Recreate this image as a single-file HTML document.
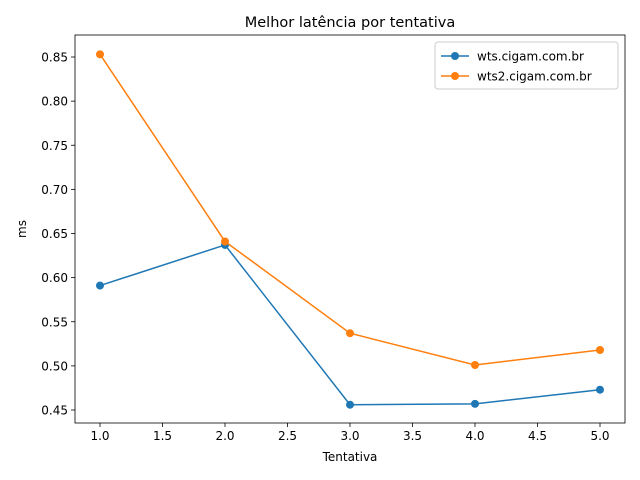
<!DOCTYPE html>
<html><head><meta charset="utf-8"><style>
html,body{margin:0;padding:0;background:#fff;}
svg{display:block;font-family:"DejaVu Sans","Liberation Sans",sans-serif;}
</style></head><body>
<svg id="chart" width="640" height="480"></svg>
<script>
const categories=[1,2,3,4,5];
const seriesWts=[0.591,0.637,0.456,0.457,0.473];
const seriesWts2=[0.853,0.641,0.537,0.501,0.518];
const xTicks=[1.0,1.5,2.0,2.5,3.0,3.5,4.0,4.5,5.0];
const yTicks=[0.45,0.50,0.55,0.60,0.65,0.70,0.75,0.80,0.85];
const seriesNames=["wts.cigam.com.br","wts2.cigam.com.br"];

const NS="http://www.w3.org/2000/svg";
const svg=document.getElementById('chart');
const L=75,R=625,T=35,B=423;
const x=v=>100+(v-1)*125;
const y=v=>57+(0.85-v)*882.5;
function mk(tag,attrs,parent){const e=document.createElementNS(NS,tag);for(const k in attrs)e.setAttribute(k,attrs[k]);(parent||svg).appendChild(e);return e;}

const title=mk('text',{x:350,y:27,'text-anchor':'middle','font-size':14.5,fill:'#000'});


title.textContent='Melhor latência por tentativa';

xTicks.forEach(t=>{
  const g=mk('g',{});
  
  
  mk('line',{x1:x(t),x2:x(t),y1:B,y2:B+4,stroke:'#000','stroke-width':0.8},g);
  const tx=mk('text',{x:x(t),y:B+17,'text-anchor':'middle','font-size':12},g);
  tx.textContent=t.toFixed(1);
});
yTicks.forEach(t=>{
  const g=mk('g',{});
  
  
  mk('line',{x1:L-4,x2:L,y1:y(t),y2:y(t),stroke:'#000','stroke-width':0.8},g);
  const tx=mk('text',{x:L-7,y:y(t)+4.5,'text-anchor':'end','font-size':12},g);
  tx.textContent=t.toFixed(2);
});
const xl=mk('text',{x:350,y:461,'text-anchor':'middle','font-size':12});


xl.textContent='Tentativa';
const yl=mk('text',{x:26,y:229,'text-anchor':'middle','font-size':12,transform:'rotate(-90 26 229)'});


yl.textContent='ms';

function drawSeries(vals,color,name){
  const g=mk('g',{});
  
  
  mk('polyline',{points:vals.map((v,i)=>x(categories[i])+','+y(v)).join(' '),fill:'none',stroke:color,'stroke-width':1.5},g);
  vals.forEach((v,i)=>{
    const c=mk('circle',{cx:x(categories[i]),cy:y(v),r:4,fill:color},g);
    
    
  });
}
drawSeries(seriesWts,'#1f77b4','series-wts');
drawSeries(seriesWts2,'#ff7f0e','series-wts2');

const frame=mk('rect',{x:L,y:T,width:R-L,height:B-T,fill:'none',stroke:'#000','stroke-width':0.8});



const lg=mk('g',{});


mk('rect',{x:435,y:42,width:183,height:47,rx:3,fill:'#fff',stroke:'#ccc','stroke-width':1},lg);
[['#1f77b4',seriesNames[0],56],['#ff7f0e',seriesNames[1],76]].forEach(([c,n,yy])=>{
  const e=mk('g',{},lg);
  
  
  mk('line',{x1:441,x2:469,y1:yy,y2:yy,stroke:c,'stroke-width':1.5},e);
  mk('circle',{cx:455,cy:yy,r:4,fill:c},e);
  const t=mk('text',{x:477,y:yy+4.5,'font-size':12},e);
  t.textContent=n;
});
</script>
</body></html>
